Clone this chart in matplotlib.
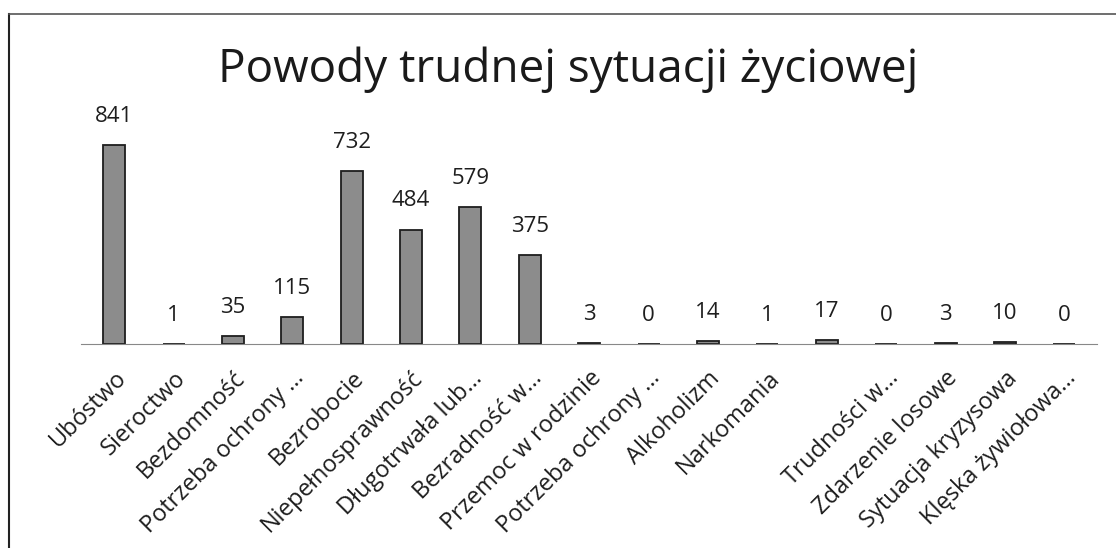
import numpy as np
import matplotlib.pyplot as plt
from matplotlib.lines import Line2D

categories = ['Ubóstwo', 'Sieroctwo', 'Bezdomność', 'Potrzeba ochrony …',
              'Bezrobocie', 'Niepełnosprawność', 'Długotrwała lub…',
              'Bezradność w…', 'Przemoc w rodzinie', 'Potrzeba ochrony …',
              'Alkoholizm', 'Narkomania', '', 'Trudności w…',
              'Zdarzenie losowe', 'Sytuacja kryzysowa', 'Klęska żywiołowa…']
values = [841, 1, 35, 115, 732, 484, 579, 375, 3, 0, 14, 1, 17, 0, 3, 10, 0]

plt.rcParams['font.family'] = ['Open Sans', 'DejaVu Sans']

fig = plt.figure(figsize=(11.16, 5.48), dpi=100)
ax = fig.add_axes([0.073, 0.372, 0.910, 0.389])

x = np.arange(len(categories))
ax.bar(x, values, width=0.37, color='#8c8c8c', edgecolor='#1e1e1e', linewidth=1.3)

for xi, v in zip(x, values):
    ax.annotate(str(v), (xi, v), xytext=(0, 13), textcoords='offset points',
                ha='center', va='bottom', fontsize=16, color='#1e1e1e')

ax.set_xlim(-0.55, len(categories) - 0.45)
ax.set_ylim(0, 900)
ax.set_xticks(x)
ax.set_xticklabels(categories, rotation=45, ha='right', rotation_mode='anchor',
                   fontsize=17, color='#1e1e1e')
ax.tick_params(axis='x', length=0, pad=16)
ax.set_yticks([])
for s in ['top', 'right', 'left']:
    ax.spines[s].set_visible(False)
ax.spines['bottom'].set_color('#888888')

fig.text(0.509, 0.873, 'Powody trudnej sytuacji życiowej', ha='center', va='center',
         fontsize=33, color='#1a1a1a')

# scanned frame (left and top edges)
fig.add_artist(Line2D([0.008, 0.008], [0.0, 0.975], transform=fig.transFigure,
                      color='#222222', lw=1.5))
fig.add_artist(Line2D([0.008, 1.0], [0.975, 0.975], transform=fig.transFigure,
                      color='#555555', lw=1.2))

fig.savefig('out.png', dpi=100)
